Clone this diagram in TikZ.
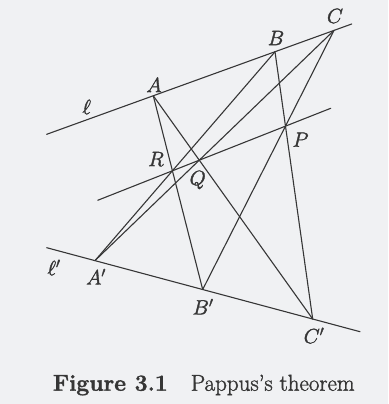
\documentclass[tikz,border=0pt]{standalone}
\usetikzlibrary{calc}
\definecolor{paper}{HTML}{F0F1F3}
\definecolor{ink}{HTML}{363636}
\newcommand{\heavytxt}[1]{\special{pdf:literal direct 2 Tr 0.35 w}#1\special{pdf:literal direct 0 Tr}}
\tikzset{
  ln/.style={draw=ink, line width=1.1pt, line cap=round},
  lbl/.style={inner sep=0pt, text=ink, font=\fontsize{21}{25}\selectfont},
  captxt/.style={inner sep=0pt, text=ink, font=\fontsize{23}{27}\selectfont, anchor=base west}
}
\begin{document}
\begin{tikzpicture}[x=1pt,y=-1pt]
\fill[paper] (0,0) rectangle (388,404);
\useasboundingbox (0,0) rectangle (388,404);
% line l
\coordinate (l1) at (46.7,134.3);
\coordinate (l2) at (351.7,24);
\coordinate (A) at (153.3,95.8);
\coordinate (B) at (275,51.8);
\coordinate (C) at (334,30.4);
% line l'
\coordinate (m1) at (46.7,247.7);
\coordinate (m2) at (360,331.7);
\coordinate (Ap) at (95,260.6);
\coordinate (Bp) at (202.7,289.5);
\coordinate (Cp) at (312.7,319);
% Pappus points
\coordinate (R) at (intersection of A--Bp and Ap--B);
\coordinate (Q) at (intersection of A--Cp and Ap--C);
\coordinate (P) at (intersection of B--Cp and Bp--C);
\coordinate (p1) at ($(R)!-0.66!(P)$);
\coordinate (p2) at ($(R)!1.4!(P)$);
% lines
\draw[ln] (l1) -- (l2);
\draw[ln] (m1) -- (m2);
\draw[ln] (A) -- (Bp);
\draw[ln] (A) -- (Cp);
\draw[ln] (B) -- (Ap);
\draw[ln] (B) -- (Cp);
\draw[ln] (C) -- (Ap);
\draw[ln] (C) -- (Bp);
\draw[ln] (p1) -- (p2);
% labels
\node[lbl] (lA) at (154,85) {\heavytxt{$A$}};
\node[lbl] (lB) at (276,38) {\heavytxt{$B$}};
\node[lbl] (lC) at (335,16) {\heavytxt{$C$}};
\node[lbl] (ll) at (86.7,107) {\heavytxt{$\ell$}};
\node[lbl] (lP) at (300.5,139.7) {\heavytxt{$P$}};
\node[lbl] (lR) at (156,159) {\heavytxt{$R$}};
\node[lbl] (lQ) at (197.7,180) {\heavytxt{$Q$}};
\node[lbl] (llp) at (54,267.5) {\heavytxt{$\ell'$}};
\node[lbl] (lAp) at (96,276.7) {\heavytxt{$A'$}};
\node[lbl] (lBp) at (203,306.7) {\heavytxt{$B'$}};
\node[lbl] (lCp) at (314,335.5) {\heavytxt{$C'$}};
\node[captxt] (caption) at (52.7,390.7) {\heavytxt{\textbf{Figure 3.1}\quad Pappus's theorem}};
\end{tikzpicture}
\end{document}
